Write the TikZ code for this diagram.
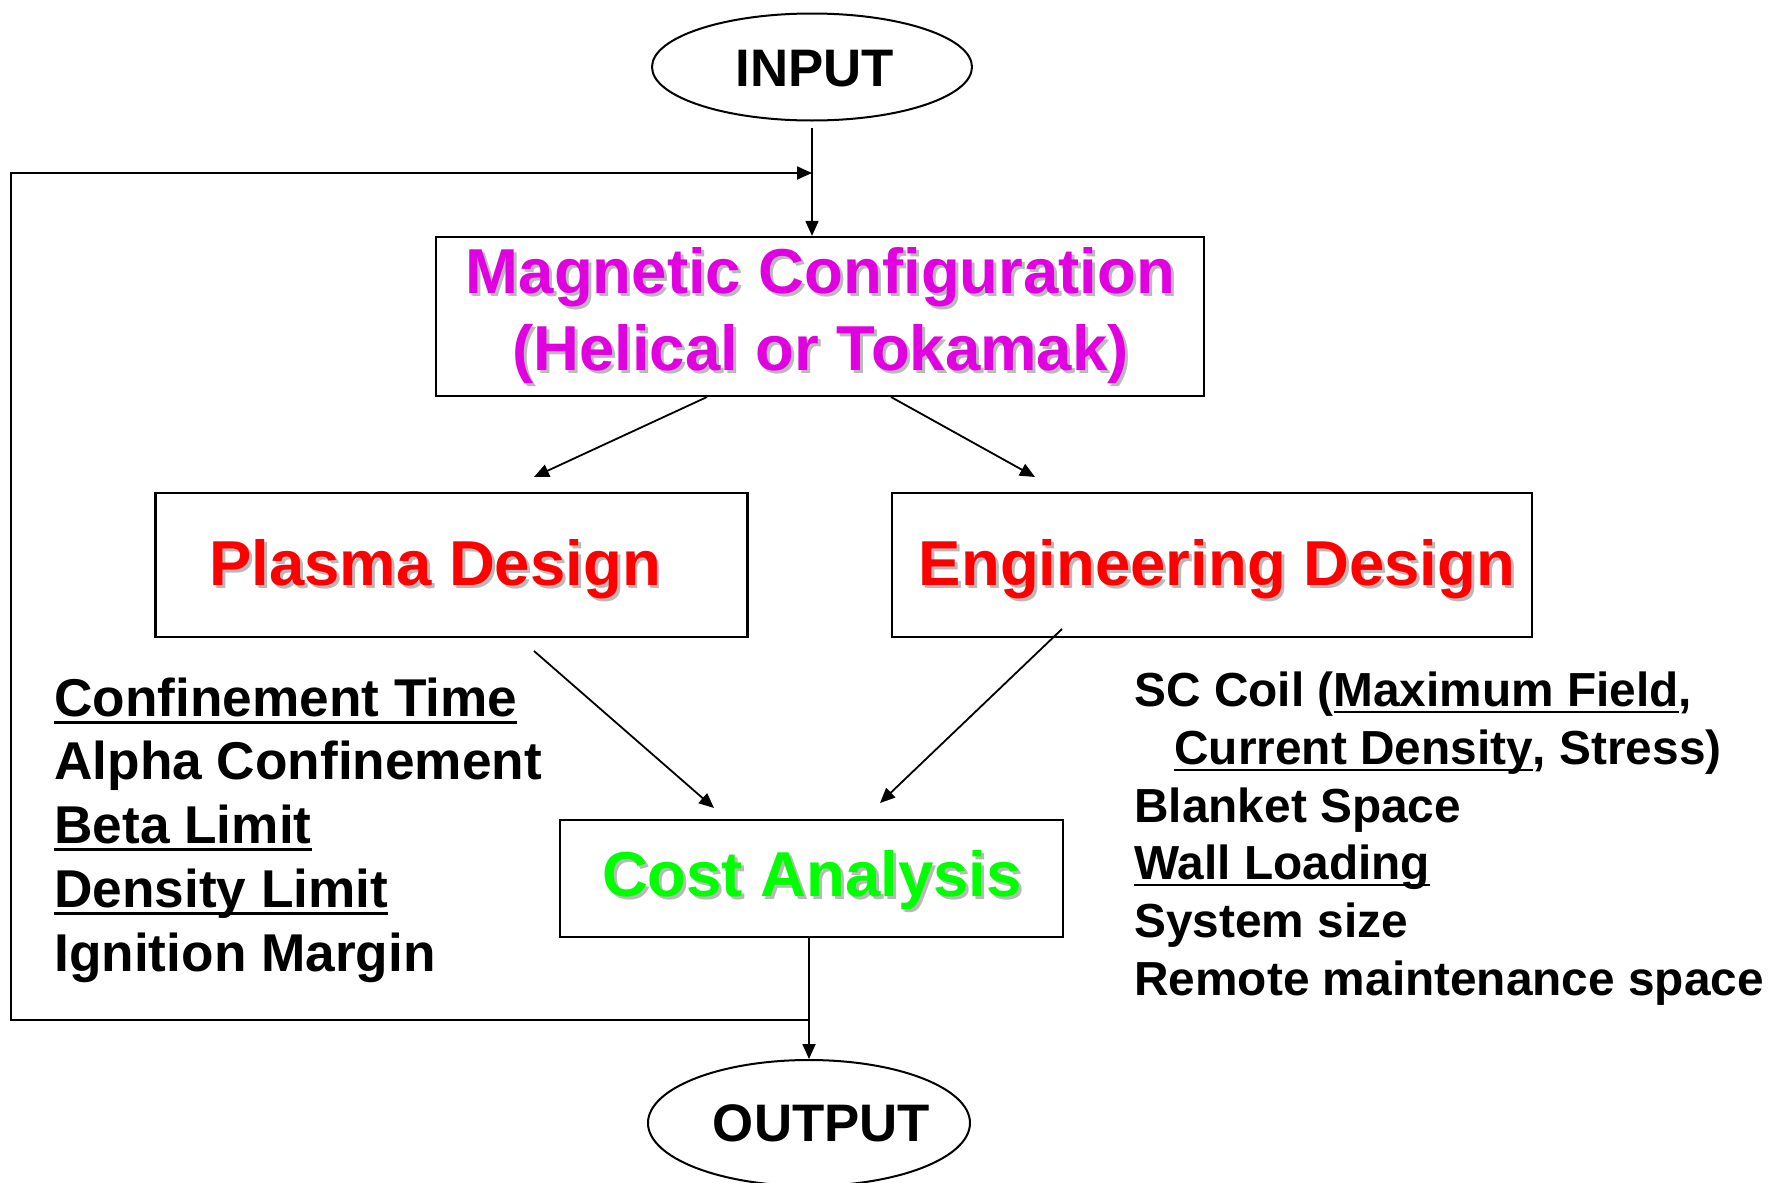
\documentclass[tikz,border=0pt]{standalone}
\usepackage{fontspec}
\setmainfont{Liberation Sans}
\usetikzlibrary{arrows.meta,shapes.geometric}
\definecolor{magc}{RGB}{224,0,224}
\definecolor{redc}{RGB}{255,0,0}
\definecolor{grnc}{RGB}{0,255,0}
\definecolor{shd}{RGB}{185,185,185}
\newcommand\myul[1]{\setbox0\hbox{#1}\rlap{\rule[-0.155em]{\wd0}{0.06em}}\box0}
\newcommand\titlefont{\fontsize{31.75pt}{38pt}\selectfont\bfseries}
\newcommand\ellfont{\fontsize{26.4pt}{32pt}\selectfont\bfseries}
\newcommand\leftfont{\fontsize{26.6pt}{32pt}\selectfont\bfseries}
\newcommand\rightfont{\fontsize{23.9pt}{29pt}\selectfont\bfseries}
\tikzset{
  boxnode/.style={draw, line width=1.1pt, inner sep=0pt},
  ellnode/.style={draw, ellipse, line width=1pt, inner sep=0pt},
  arr/.style={line width=0.9pt, -{Triangle[length=7.5pt,width=6.5pt]}},
  ttl/.style={anchor=base, inner sep=0pt, font=\titlefont},
  shadowtxt/.style={ttl, text=shd},
  etxt/.style={anchor=base, inner sep=0pt, font=\ellfont},
  ltxt/.style={anchor=base west, inner sep=0pt, font=\leftfont},
  rtxt/.style={anchor=base west, inner sep=0pt, font=\rightfont}
}
\begin{document}
\begin{tikzpicture}[x=0.5pt,y=-0.5pt]
\useasboundingbox (0,0) rectangle (1768,1183);

% shapes
\node[ellnode, minimum width=160pt, minimum height=53.5pt] (in) at (812,67) {};
\node[ellnode, minimum width=161pt, minimum height=63pt] (out) at (809,1123) {};
\node[boxnode, minimum width=384pt, minimum height=79.5pt] (mag) at (820,316.5) {};
\node[boxnode, minimum width=296pt, minimum height=72pt] (pla) at (451.5,565) {};
\node[boxnode, minimum width=320pt, minimum height=72pt] (eng) at (1212,565) {};
\node[boxnode, minimum width=251.5pt, minimum height=58.5pt] (cost) at (811.5,878.5) {};

% titles with shadows
\node[etxt] (intxt) at (815,86) {INPUT};
\node[etxt] (outtxt) at (821.5,1141) {OUTPUT};

\node[shadowtxt] (m1s) at (823.5,296) {Magnetic Configuration};
\node[ttl, text=magc] (m1) at (820.5,293) {Magnetic Configuration};
\node[shadowtxt] (m2s) at (823.5,373) {(Helical or Tokamak)};
\node[ttl, text=magc] (m2) at (820.5,370) {(Helical or Tokamak)};

\node[shadowtxt] (ps) at (438,588) {Plasma Design};
\node[ttl, text=redc] (pt) at (435,585) {Plasma Design};
\node[shadowtxt] (es) at (1220,588) {Engineering Design};
\node[ttl, text=redc] (et) at (1217,585) {Engineering Design};
\node[shadowtxt] (cs) at (815,899) {Cost Analysis};
\node[ttl, text=grnc] (ct) at (812,896) {Cost Analysis};

% left list
\node[ltxt] (l1) at (54,716) {\myul{Confinement Time}};
\node[ltxt] (l2) at (54,779) {Alpha Confinement};
\node[ltxt] (l3) at (54,843) {\myul{Beta Limit}};
\node[ltxt] (l4) at (54,907) {\myul{Density Limit}};
\node[ltxt] (l5) at (54,971) {Ignition Margin};

% right list
\node[rtxt] (r1) at (1134,706) {SC Coil (\myul{Maximum Field},};
\node[rtxt] (r2) at (1174,764) {\myul{Current Density}, Stress)};
\node[rtxt] (r3) at (1134,822) {Blanket Space};
\node[rtxt] (r4) at (1134,879) {\myul{Wall Loading}};
\node[rtxt] (r5) at (1134,937) {System size};
\node[rtxt] (r6) at (1134,995) {Remote maintenance space};

% connectors
\draw[arr, shorten <=3pt] (in.south) -- (in.south |- mag.north);

\coordinate (a1s) at (707,397);
\coordinate (a1e) at (534,477);
\coordinate (a2s) at (891,397);
\coordinate (a2e) at (1035,477);
\coordinate (a3s) at (534,651);
\coordinate (a3e) at (714,808);
\coordinate (a4s) at (1062,629);
\coordinate (a4e) at (880,803);
\draw[arr] (a1s) -- (a1e);
\draw[arr] (a2s) -- (a2e);
\draw[arr] (a3s) -- (a3e);
\draw[arr] (a4s) -- (a4e);

\draw[arr] (cost.south -| out.north) -- (out.north);

\coordinate (fbB) at (11,1020);
\coordinate (fbT) at (11,173);
\draw[arr] (out.north |- fbB) -- (fbB) -- (fbT) -- (in.south |- fbT);
\end{tikzpicture}
\end{document}
